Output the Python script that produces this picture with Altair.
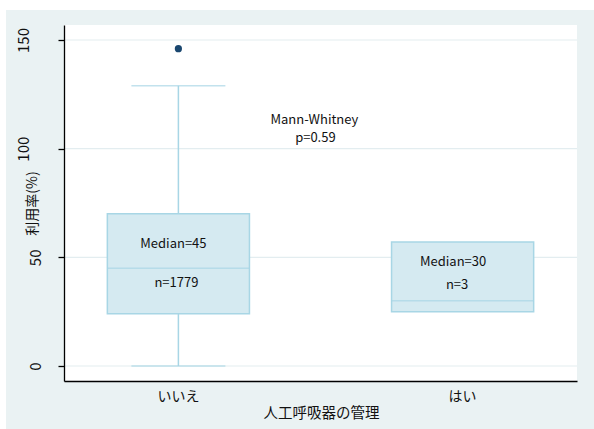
import altair as alt
import pandas as pd

# Box-plot summaries of utilisation rate by ventilator management
groups = ["いいえ", "はい"]
q1 = [24, 25]
medians = [45, 30]
q3 = [70, 57]
whisker_low = [0, 25]
whisker_high = [129, 57]
counts = [1779, 3]

# observations beyond the upper whisker
outlier_groups = ["いいえ"]
outlier_values = [146]

y_ticks = [0, 50, 100, 150]
test_name = "Mann-Whitney"
p_value = 0.59

W, H = 513, 356
FONT = "Noto Sans CJK JP"
BG = "#eaf2f3"
BOX_FILL = "#d5eaf1"
BOX_LINE = "#a8d6e5"
GRID = "#e3edf0"
DOT = "#1a476f"
INK = "#111111"

boxes = pd.DataFrame({
    "group": groups, "q1": q1, "median": medians, "q3": q3,
    "lo": whisker_low, "hi": whisker_high, "n": counts,
})
outliers = pd.DataFrame({"group": outlier_groups, "value": outlier_values})
grid = pd.DataFrame({"value": y_ticks})
one = pd.DataFrame({"k": [0]})

x_scale = alt.Scale(domain=groups, paddingInner=0.5, paddingOuter=0.1525)
y_scale = alt.Scale(domain=[-6.9, 156.9], nice=False, zero=False)

x_axis = alt.Axis(
    title="人工呼吸器の管理", ticks=False, tickSize=0, labelAngle=0,
    labelPadding=8, labelFontSize=14, labelColor=INK, labelFont=FONT,
    domainColor="#000000", domainWidth=1.3, grid=False,
    titleFontSize=14.5, titleFontWeight="normal", titleColor=INK, titleFont=FONT,
    titleX=W / 2 + 0.5, titleY=32, titleAlign="center", titleBaseline="middle",
    zindex=1,
)
# rotated tick labels, stepped sideways by their length
y_axis = alt.Axis(
    title="利用率(%)", values=y_ticks, grid=False,
    domainColor="#000000", domainWidth=1.3, tickColor="#000000", tickWidth=1.3, tickSize=6,
    labelAngle=270, labelAlign="center", labelBaseline="bottom", labelPadding=27,
    labelFontSize=15, labelColor=INK, labelFont=FONT, labelLineHeight=12.3,
    labelOverlap=False, labelFlush=False,
    labelExpr="length(datum.label) == 1 ? ['', '', datum.label] : length(datum.label) == 2 ? ['', datum.label] : datum.label",
    titleAngle=270, titleX=-32, titleY=H / 2, titleAlign="center", titleBaseline="middle",
    titleFontSize=14, titleFontWeight="normal", titleColor=INK, titleFont=FONT,
    zindex=1,
)


def X():
    return alt.X("group:N", scale=x_scale, axis=x_axis, sort=groups)


def Y(field):
    return alt.Y(f"{field}:Q", scale=y_scale, axis=y_axis)


frame = alt.Chart(one).mark_rect(color=BG).encode(
    x=alt.value(-58), x2=alt.value(W + 17), y=alt.value(-15), y2=alt.value(H + 48)
)
plot_bg = alt.Chart(one).mark_rect(color="white").encode(
    x=alt.value(0), x2=alt.value(W), y=alt.value(0), y2=alt.value(H)
)
gridlines = alt.Chart(grid).mark_rule(color=GRID, strokeWidth=1.2).encode(y=Y("value"))

whisker = alt.Chart(boxes).transform_filter("datum.hi > datum.q3 || datum.lo < datum.q1").mark_rule(
    color=BOX_LINE, strokeWidth=1.5
).encode(x=X(), y=Y("lo"), y2="hi")
cap_low = alt.Chart(boxes).transform_filter("datum.lo < datum.q1").mark_tick(
    color=BOX_LINE, size=94, thickness=1.5
).encode(x=X(), y=Y("lo"))
cap_high = alt.Chart(boxes).transform_filter("datum.hi > datum.q3").mark_tick(
    color=BOX_LINE, size=94, thickness=1.5
).encode(x=X(), y=Y("hi"))
box = alt.Chart(boxes).mark_bar(fill=BOX_FILL, stroke=BOX_LINE, strokeWidth=1.5).encode(
    x=X(), y=Y("q1"), y2="q3"
)
median_line = alt.Chart(boxes).mark_tick(color=BOX_LINE, size=142, thickness=1.5).encode(
    x=X(), y=Y("median")
)
dots = alt.Chart(outliers).mark_circle(size=52, color=DOT, opacity=1).encode(
    x=X(), y=Y("value")
)


def note(text, group, y, dx):
    return alt.Chart(pd.DataFrame({"group": [group], "y": [y]})).mark_text(
        text=text, font=FONT, fontSize=13, color=INK, align="center",
        baseline="middle", dx=dx,
    ).encode(x=X(), y=Y("y"))


notes = [
    note(f"Median={medians[0]}", groups[0], 56.1, -5),
    note(f"n={counts[0]}", groups[0], 38.2, -2),
    note(f"Median={medians[1]}", groups[1], 47.9, -9.5),
    note(f"n={counts[1]}", groups[1], 37.3, -5.5),
    note(test_name, groups[0], 113.2, 136),
    note(f"p={p_value}", groups[0], 104.9, 137),
]

chart = alt.layer(
    frame, plot_bg, gridlines, whisker, cap_low, cap_high, box, median_line, dots, *notes
).properties(
    width=W, height=H,
    padding={"left": 6, "top": 10, "right": 0, "bottom": 0},
    background="white",
).configure_view(strokeWidth=0).configure(font=FONT)

chart.save("out.html", embed_options={"renderer": "svg", "actions": False})
